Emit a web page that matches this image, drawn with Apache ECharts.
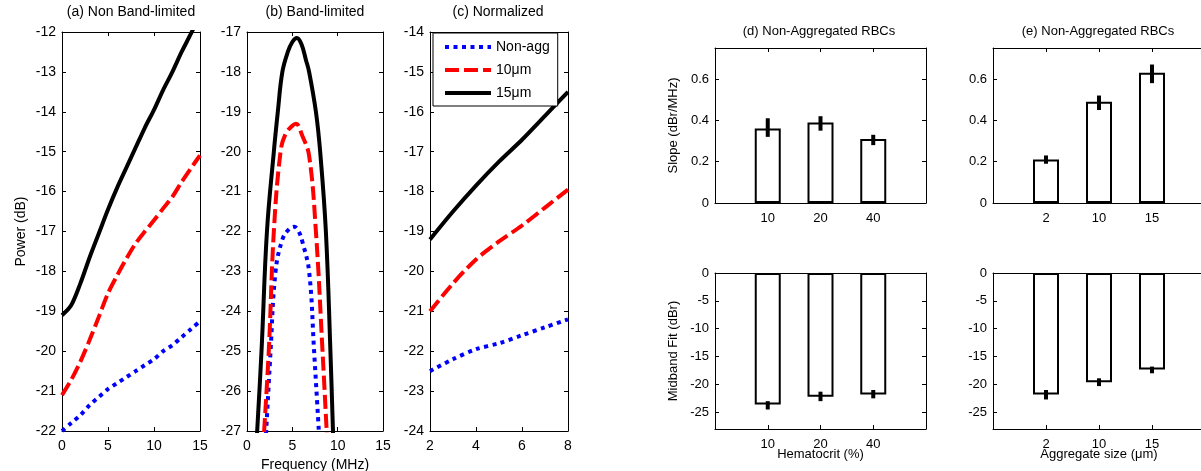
<!DOCTYPE html>
<html><head><meta charset="utf-8">
<script src="https://cdn.jsdelivr.net/npm/echarts@6/dist/echarts.min.js"></script>
<style>html,body{margin:0;padding:0;background:#fff}#c{width:1201px;height:471px}</style>
</head><body><div id="c"></div>
<script>
// ---------- DATA ----------
const seriesNames = ['Non-agg', '10\u03bcm', '15\u03bcm'];

// (a) Non Band-limited
const aFreq    = [0,1,2,3,4,5,6,7,8,9,10,11,12,13,14,15];
const aNonAgg  = [-22,-21.8,-21.6,-21.35,-21.15,-20.95,-20.8,-20.65,-20.5,-20.35,-20.2,-20.0,-19.85,-19.65,-19.45,-19.25];
const a10      = [-21.1,-20.72,-20.26,-19.72,-19.14,-18.55,-18.1,-17.68,-17.3,-17.0,-16.72,-16.42,-16.13,-15.76,-15.42,-15.09];
const a15      = [-19.1,-18.85,-18.3,-17.65,-17.05,-16.45,-15.9,-15.4,-14.9,-14.4,-13.95,-13.45,-13.0,-12.5,-12.05,-11.55];

// (b) Band-limited
const bNonAggX = [2.0,2.6,3.15,3.9,4.6,5.2,5.7,6.1,6.85,7.4,8.05];
const bNonAggY = [-27.5,-25,-23,-22.2,-21.95,-21.88,-22.0,-22.25,-23,-25,-27.5];
const b10X     = [1.75,2.4,2.96,3.7,4.26,5.0,5.4,6.1,6.85,7.6,8.33,8.9];
const b10Y     = [-27.5,-25,-22,-20,-19.55,-19.35,-19.3,-19.6,-20.1,-22,-25,-27.5];
const b15X     = [1.0,1.6,2.2,2.96,3.4,3.9,4.5,5.0,5.5,6.0,6.5,6.85,7.6,8.07,8.7,9.2,9.55];
const b15Y     = [-27.5,-25,-22,-20,-19,-18,-17.5,-17.25,-17.15,-17.3,-17.7,-18,-19,-20,-22,-25,-27.5];

// (c) Normalized
const cFreq    = [2,3,4,5,6,7,8];
const cNonAgg  = [-22.5,-22.2,-21.95,-21.8,-21.6,-21.4,-21.2];
const c10      = [-21.0,-20.3,-19.7,-19.25,-18.85,-18.4,-17.95];
const c15      = [-19.2,-18.5,-17.85,-17.25,-16.7,-16.1,-15.5];

// (d) hematocrit bars
const hematocrit  = ['10','20','40'];
const dSlope      = [0.36,0.39,0.31];
const dSlopeLo    = [0.32,0.35,0.28];
const dSlopeHi    = [0.41,0.42,0.33];
const dMid        = [-23.6,-22.2,-21.8];
const dMidLo      = [-24.5,-23.0,-22.5];
const dMidHi      = [-23.0,-21.3,-21.0];

// (e) aggregate size bars
const aggSize     = ['2','10','15'];
const eSlope      = [0.21,0.49,0.63];
const eSlopeLo    = [0.19,0.45,0.58];
const eSlopeHi    = [0.23,0.52,0.67];
const eMid        = [-21.8,-19.6,-17.3];
const eMidLo      = [-22.7,-20.3,-18.0];
const eMidHi      = [-21.0,-18.9,-16.8];

// ---------- BUILD ----------
const font = "'Liberation Sans', Arial, Helvetica, sans-serif";
const grids = [], xAxes = [], yAxes = [], series = [];

function axisCommon(fs){
  return {
    axisLine: {show: true, onZero: false, lineStyle: {color: '#000', width: 1}},
    axisTick: {show: true, inside: true, length: 4, lineStyle: {color: '#000', width: 1}},
    splitLine: {show: false},
    nameTextStyle: {color: '#000', fontSize: fs, fontFamily: font},
    axisLabel: {color: '#000', fontSize: fs, fontFamily: font}
  };
}
function addPanel(rect, xo, yo, fs){
  const gi = grids.length;
  grids.push({left: rect[0], top: rect[1], width: rect[2], height: rect[3],
    containLabel: false, outerBoundsMode: 'none'});
  const xa = Object.assign({type: 'value', gridIndex: gi, position: 'bottom'}, axisCommon(fs), {
    min: xo.min, max: xo.max, interval: xo.interval,
    name: xo.name || '', nameLocation: 'middle', nameGap: xo.nameGap || 20
  });
  if (xo.noMove) xa.nameMoveOverlap = false;
  xa.axisLabel = Object.assign(xa.axisLabel, {margin: xo.margin || 8, formatter: xo.fmt,
    showMinLabel: xo.showMin !== false, showMaxLabel: xo.showMax !== false});
  const xb = Object.assign({type: 'value', gridIndex: gi, position: 'top'}, axisCommon(fs), {
    min: xo.min, max: xo.max, interval: xo.interval});
  xb.axisLabel = {show: false};
  const ya = Object.assign({type: 'value', gridIndex: gi, position: 'left'}, axisCommon(fs), {
    min: yo.min, max: yo.max, name: yo.name || '', nameLocation: 'middle', nameGap: yo.nameGap || 30
  });
  if (yo.interval) ya.interval = yo.interval;
  if (yo.splitNumber) ya.splitNumber = yo.splitNumber;
  ya.axisLabel = Object.assign(ya.axisLabel, {margin: yo.margin || 6,
    showMinLabel: yo.showMin !== false, showMaxLabel: yo.showMax !== false});
  const yb = Object.assign({type: 'value', gridIndex: gi, position: 'right'}, axisCommon(fs), {
    min: yo.min, max: yo.max});
  if (yo.interval) yb.interval = yo.interval;
  if (yo.splitNumber) yb.splitNumber = yo.splitNumber;
  yb.axisLabel = {show: false};
  xAxes.push(xa, xb); yAxes.push(ya, yb);
  return 2 * gi;
}

const lineStyles = [
  {color: '#0000ff', width: 4, type: [4, 4.5], cap: 'butt'},
  {color: '#ff0000', width: 4, type: [14, 5], cap: 'butt'},
  {color: '#000000', width: 4, type: 'solid', cap: 'butt'}
];
function pairs(xs, ys){ return xs.map((x, i) => [x, ys[i]]); }
function addLines(ai, sets, smooth){
  sets.forEach((d, k) => {
    series.push({type: 'line', name: seriesNames[k], xAxisIndex: ai, yAxisIndex: ai,
      data: d, showSymbol: false, symbol: 'none', smooth: smooth, clip: true,
      lineStyle: lineStyles[k], itemStyle: {color: lineStyles[k].color}, z: 3 + k});
  });
}

// Panel a
let ai = addPanel([62, 32, 138, 399], {min: 0, max: 15, interval: 5, margin: 8},
  {min: -22, max: -12, interval: 1, name: 'Power (dB)', nameGap: 34}, 14);
addLines(ai, [pairs(aFreq, aNonAgg), pairs(aFreq, a10), pairs(aFreq, a15)], 0.3);

// Panel b
ai = addPanel([247, 32, 136, 399], {min: 0, max: 15, interval: 5, margin: 8, name: 'Frequency (MHz)', nameGap: 26},
  {min: -27, max: -17, interval: 1}, 14);
addLines(ai, [pairs(bNonAggX, bNonAggY), pairs(b10X, b10Y), pairs(b15X, b15Y)], 0.4);

// Panel c
ai = addPanel([430, 32, 138, 399], {min: 2, max: 8, interval: 2, margin: 8},
  {min: -24, max: -14, interval: 1}, 14);
addLines(ai, [pairs(cFreq, cNonAgg), pairs(cFreq, c10), pairs(cFreq, c15)], 0.3);

// Bar panels
function addBars(rect, cats, vals, lo, hi, yo, xname){
  const fmt = v => (v >= 1 && v <= cats.length && Math.round(v) === v) ? cats[v - 1] : '';
  const a = addPanel(rect, {min: 0, max: cats.length + 1, interval: 1, fmt: fmt, margin: 9,
    name: xname || '', nameGap: 19, noMove: true}, yo, 13);
  series.push({type: 'bar', xAxisIndex: a, yAxisIndex: a, barWidth: 26,
    data: vals.map((v, i) => [i + 1, v]),
    itemStyle: {color: '#fff', borderColor: '#000', borderWidth: 2}, z: 2});
  series.push({type: 'custom', xAxisIndex: a, yAxisIndex: a, z: 5,
    data: lo.map((l, i) => [i + 1, l, hi[i]]),
    encode: {x: 0, y: [1, 2]},
    renderItem: function(params, api){
      const x = api.value(0);
      const p1 = api.coord([x, api.value(1)]);
      const p2 = api.coord([x, api.value(2)]);
      return {type: 'line', shape: {x1: p1[0], y1: p1[1], x2: p2[0], y2: p2[1]},
        style: {stroke: '#000', lineWidth: 4}};
    }});
}
addBars([715, 48, 211, 155], hematocrit, dSlope, dSlopeLo, dSlopeHi,
  {min: 0, max: 0.75, interval: 0.2, name: 'Slope (dBr/MHz)', nameGap: 35, showMax: false});
addBars([715, 273, 211, 156], hematocrit, dMid, dMidLo, dMidHi,
  {min: -28, max: 0, splitNumber: 5, name: 'Midband Fit (dBr)', nameGap: 35, showMin: false}, 'Hematocrit (%)');
addBars([993, 48, 212, 155], aggSize, eSlope, eSlopeLo, eSlopeHi,
  {min: 0, max: 0.75, interval: 0.2, showMax: false});
addBars([993, 273, 212, 156], aggSize, eMid, eMidLo, eMidHi,
  {min: -28, max: 0, splitNumber: 5, showMin: false}, 'Aggregate size (\u03bcm)');

const titleStyle = {color: '#000', fontSize: 14, fontWeight: 'normal', fontFamily: font};
const titleStyleSm = {color: '#000', fontSize: 13, fontWeight: 'normal', fontFamily: font};
const option = {
  animation: false,
  backgroundColor: '#fff',
  title: [
    {text: '(a) Non Band-limited', left: 131, top: 5, textAlign: 'center', padding: 0, textStyle: titleStyle},
    {text: '(b) Band-limited', left: 315, top: 5, textAlign: 'center', padding: 0, textStyle: titleStyle},
    {text: '(c) Normalized', left: 498, top: 5, textAlign: 'center', padding: 0, textStyle: titleStyle},
    {text: '(d) Non-Aggregated RBCs', left: 819, top: 25, textAlign: 'center', padding: 0, textStyle: titleStyleSm},
    {text: '(e) Non-Aggregated RBCs', left: 1098, top: 25, textAlign: 'center', padding: 0, textStyle: titleStyleSm}
  ],
  legend: {
    data: seriesNames, left: 433, top: 33, orient: 'vertical',
    itemWidth: 46, itemHeight: 14, itemGap: 9, padding: [7, 8, 6, 10],
    borderColor: '#000', borderWidth: 1, backgroundColor: '#fff',
    selectedMode: false,
    itemStyle: {opacity: 0},
    lineStyle: {width: 4},
    textStyle: {color: '#000', fontSize: 14, fontFamily: font},
    z: 10
  },
  grid: grids, xAxis: xAxes, yAxis: yAxes, series: series
};
const chart = echarts.init(document.getElementById('c'), null, {renderer: 'canvas'});
chart.setOption(option);
</script></body></html>
